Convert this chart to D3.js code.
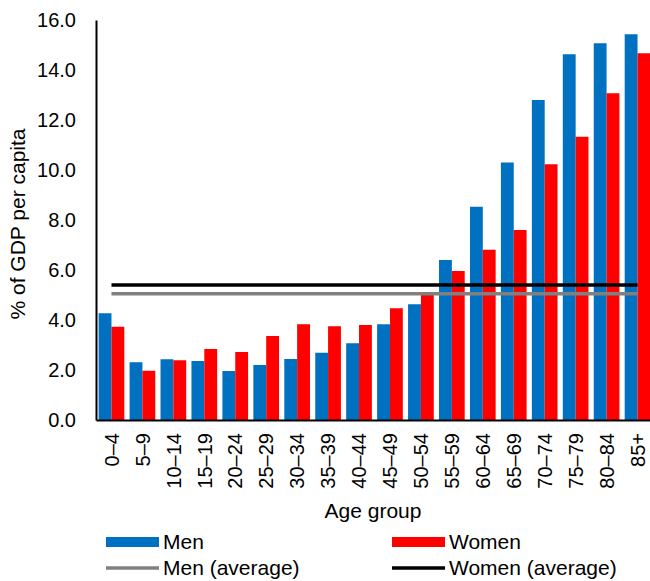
<!DOCTYPE html>
<html>
<head>
<meta charset="utf-8">
<script src="https://cdn.jsdelivr.net/npm/d3@7/dist/d3.min.js"></script>
<style>
  html, body { margin: 0; padding: 0; background: #fff; }
  svg { display: block; font-family: "Liberation Sans", Arial, sans-serif; }
</style>
</head>
<body>
<svg id="chart" width="650" height="581"></svg>
<script>
const categories = ["0–4","5–9","10–14","15–19","20–24","25–29","30–34","35–39","40–44","45–49","50–54","55–59","60–64","65–69","70–74","75–79","80–84","85+"];
const menValues = [4.27, 2.31, 2.43, 2.36, 1.96, 2.20, 2.44, 2.69, 3.07, 3.83, 4.63, 6.40, 8.53, 10.30, 12.80, 14.63, 15.07, 15.43];
const womenValues = [3.73, 1.97, 2.39, 2.84, 2.72, 3.36, 3.83, 3.75, 3.80, 4.47, 5.00, 5.96, 6.81, 7.60, 10.23, 11.33, 13.07, 14.67];
const menAverage = 5.05;
const womenAverage = 5.40;
const yTicks = [0, 2, 4, 6, 8, 10, 12, 14, 16];
const seriesNames = ["Men", "Women", "Men (average)", "Women (average)"];

const colors = { men: "#0070C0", women: "#FF0000", menAvg: "#808080", womenAvg: "#000000" };

const svg = d3.select("#chart");
const plotLeft = 96, plotRight = 653, plotTop = 20, plotBottom = 420;

const x = d3.scaleBand().domain(categories).range([plotLeft, plotRight]).paddingInner(0.17).paddingOuter(0.085);
const y = d3.scaleLinear().domain([0, 16]).range([plotBottom, plotTop]);
const bw = x.bandwidth() / 2;

// bars
const g = svg.append("g");
g.selectAll("rect.men").data(categories).join("rect")
  .attr("class", "men")
  .attr("x", d => x(d))
  .attr("y", (d, i) => y(menValues[i]))
  .attr("width", bw)
  .attr("height", (d, i) => y(0) - y(menValues[i]))
  .attr("fill", colors.men);
g.selectAll("rect.women").data(categories).join("rect")
  .attr("class", "women")
  .attr("x", d => x(d) + bw)
  .attr("y", (d, i) => y(womenValues[i]))
  .attr("width", bw)
  .attr("height", (d, i) => y(0) - y(womenValues[i]))
  .attr("fill", colors.women);

// average lines
const c0 = x(categories[0]) + x.bandwidth() / 2;
const c1 = x(categories[categories.length - 1]) + x.bandwidth() / 2;
svg.append("line").attr("x1", c0).attr("x2", c1).attr("y1", y(menAverage)).attr("y2", y(menAverage))
  .attr("stroke", colors.menAvg).attr("stroke-width", 3.5);
svg.append("line").attr("x1", c0).attr("x2", c1).attr("y1", y(womenAverage)).attr("y2", y(womenAverage))
  .attr("stroke", colors.womenAvg).attr("stroke-width", 3.5);

// y axis
const yAxis = d3.axisLeft(y).tickValues(yTicks).tickFormat(d3.format(".1f")).tickSize(0).tickPadding(20);
const ya = svg.append("g").attr("transform", `translate(${plotLeft},0)`).call(yAxis);
ya.select(".domain").attr("stroke", "#000").attr("stroke-width", 2);
ya.selectAll("text").attr("font-size", 20).attr("fill", "#000").attr("font-family", "Liberation Sans, Arial, sans-serif");

// x axis
const xAxis = d3.axisBottom(x).tickSize(0).tickPadding(0);
const xa = svg.append("g").attr("transform", `translate(0,${plotBottom})`).call(xAxis);
xa.select(".domain").attr("stroke", "#000").attr("stroke-width", 2);
xa.selectAll("text")
  .attr("font-size", 20).attr("fill", "#000").attr("font-family", "Liberation Sans, Arial, sans-serif")
  .attr("text-anchor", "end")
  .attr("transform", "translate(0,13) rotate(-90)")
  .attr("x", 0).attr("y", 0).attr("dy", "0.36em");

// axis titles
svg.append("text").attr("x", (plotLeft + 650) / 2).attr("y", 518).attr("text-anchor", "middle")
  .attr("font-size", 21).text("Age group");
svg.append("text").attr("transform", "translate(25,224) rotate(-90)").attr("text-anchor", "middle")
  .attr("font-size", 21).text("% of GDP per capita");

// legend
const legend = [
  { name: seriesNames[0], type: "rect", color: colors.men, x: 106, y: 542 },
  { name: seriesNames[1], type: "rect", color: colors.women, x: 392, y: 542 },
  { name: seriesNames[2], type: "line", color: colors.menAvg, x: 106, y: 568 },
  { name: seriesNames[3], type: "line", color: colors.womenAvg, x: 392, y: 568 }
];
legend.forEach(l => {
  if (l.type === "rect") {
    svg.append("rect").attr("x", l.x).attr("y", l.y - 5).attr("width", 53).attr("height", 10).attr("fill", l.color);
  } else {
    svg.append("line").attr("x1", l.x).attr("x2", l.x + 53).attr("y1", l.y).attr("y2", l.y)
      .attr("stroke", l.color).attr("stroke-width", 3.5);
  }
  svg.append("text").attr("x", l.x + 57).attr("y", l.y + 7).attr("font-size", 21).attr("fill", "#000").text(l.name);
});
</script>
</body>
</html>
